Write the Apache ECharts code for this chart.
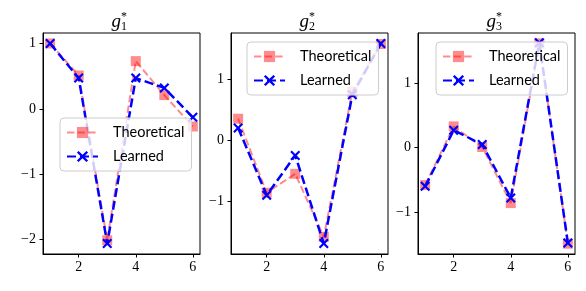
<!DOCTYPE html>
<html>
<head>
<meta charset="utf-8">
<script src="https://cdn.jsdelivr.net/npm/echarts@6/dist/echarts.min.js"></script>
<style>html,body{margin:0;padding:0;background:#fff}#c{width:586px;height:291px}</style>
</head>
<body>
<div id="c"></div>
<script>
// ---- data ----
var xs = [1, 2, 3, 4, 5, 6];
var g1Theoretical = [1.0, 0.51, -2.01, 0.73, 0.21, -0.27];
var g1Learned     = [1.0, 0.47, -2.06, 0.47, 0.32, -0.13];
var g2Theoretical = [0.35, -0.86, -0.55, -1.58, 0.79, 1.57];
var g2Learned     = [0.20, -0.90, -0.25, -1.69, 0.74, 1.58];
var g3Theoretical = [-0.58, 0.33, 0.01, -0.86, 1.62, -1.49];
var g3Learned     = [-0.60, 0.27, 0.05, -0.78, 1.63, -1.48];
var xTicks = [2, 4, 6];
var y1Ticks = [-2, -1, 0, 1];
var y2Ticks = [-1, 0, 1];
var y3Ticks = [-1, 0, 1];
var titleSubs = ['1', '2', '3'];
var seriesNames = ['Theoretical', 'Learned'];

// ---- layout ----
var grids = [
  {left: 43, top: 33, width: 157, height: 221, ymin: -2.22, ymax: 1.16, yt: y1Ticks, legend: {left: 60, top: 118}},
  {left: 231, top: 33, width: 157, height: 221, ymin: -1.86, ymax: 1.75, yt: y2Ticks, legend: {left: 247, top: 42}},
  {left: 418, top: 33, width: 157, height: 221, ymin: -1.65, ymax: 1.78, yt: y3Ticks, legend: {left: 436, top: 42}}
];
var data = [[g1Theoretical, g1Learned], [g2Theoretical, g2Learned], [g3Theoretical, g3Learned]];

var serif = '"Liberation Serif", "DejaVu Serif", serif';
var sans = 'Lato, "Noto Sans", sans-serif';
var XPATH = 'path://M0,1.5 L1.5,0 L5,3.5 L8.5,0 L10,1.5 L6.5,5 L10,8.5 L8.5,10 L5,6.5 L1.5,10 L0,8.5 L3.5,5 Z';
function fmt(v) { return String(v).replace('-', '\u2212'); }

var option = {animation: false, grid: [], xAxis: [], yAxis: [], series: [], legend: [], graphic: []};
grids.forEach(function (g, i) {
  option.grid.push({left: g.left, top: g.top, width: g.width, height: g.height, show: true,
    borderColor: '#000', borderWidth: 1, backgroundColor: 'transparent'});
  option.xAxis.push({type: 'value', gridIndex: i, min: 0.75, max: 6.25, position: 'bottom',
    splitLine: {show: false}, axisLine: {show: true, onZero: false, lineStyle: {color: '#000', width: 1}},
    axisTick: {show: true, length: 3.5, lineStyle: {color: '#000', width: 1}, customValues: xTicks},
    axisLabel: {customValues: xTicks, formatter: fmt, margin: 6, color: '#000', fontFamily: serif, fontSize: 14}});
  option.yAxis.push({type: 'value', gridIndex: i, min: g.ymin, max: g.ymax, position: 'left',
    splitLine: {show: false}, axisLine: {show: true, onZero: false, lineStyle: {color: '#000', width: 1}},
    axisTick: {show: true, length: 3.5, lineStyle: {color: '#000', width: 1}, customValues: g.yt},
    axisLabel: {customValues: g.yt, formatter: fmt, margin: 7, color: '#000', fontFamily: serif, fontSize: 14}});
  var th = data[i][0], le = data[i][1];
  option.series.push({name: seriesNames[0], type: 'line', xAxisIndex: i, yAxisIndex: i,
    data: xs.map(function (x, k) { return [x, th[k]]; }),
    symbol: 'rect', symbolSize: 10, z: 2,
    itemStyle: {color: 'rgba(255,0,0,0.45)'},
    lineStyle: {color: 'rgba(255,0,0,0.45)', width: 2, type: [7.4, 3.2]}});
  option.series.push({name: seriesNames[1], type: 'line', xAxisIndex: i, yAxisIndex: i,
    data: xs.map(function (x, k) { return [x, le[k]]; }),
    symbol: XPATH, symbolSize: 10, z: 3,
    itemStyle: {color: '#0000ff'},
    lineStyle: {color: '#0000ff', width: 2.5, type: [9, 4]}});
  option.legend.push({data: seriesNames, orient: 'vertical', left: g.legend.left, top: g.legend.top,
    padding: [7, 7, 7, 6], itemWidth: 31, itemHeight: 14, itemGap: 9,
    backgroundColor: 'rgba(255,255,255,0.8)', borderColor: '#cccccc', borderWidth: 1, borderRadius: 4,
    textStyle: {fontFamily: sans, fontSize: 14.5, color: '#000', padding: [0, 0, 0, 10]}});
  var cx = g.left + g.width / 2;
  option.graphic.push({type: 'text', x: cx - 0.5, y: 21.5, z: 10,
    style: {text: 'g', font: 'italic 19px ' + serif, fill: '#000', textAlign: 'right', textVerticalAlign: 'middle'}});
  option.graphic.push({type: 'text', x: cx - 0.5, y: 27, z: 10,
    style: {text: titleSubs[i], font: '12px ' + serif, fill: '#000', textAlign: 'left', textVerticalAlign: 'middle'}});
  option.graphic.push({type: 'text', x: cx - 0.5, y: 16.5, z: 10,
    style: {text: '*', font: '12px ' + serif, fill: '#000', textAlign: 'left', textVerticalAlign: 'middle'}});
});

var chart = echarts.init(document.getElementById('c'), null, {renderer: 'canvas'});
chart.setOption(option);
</script>
</body>
</html>
